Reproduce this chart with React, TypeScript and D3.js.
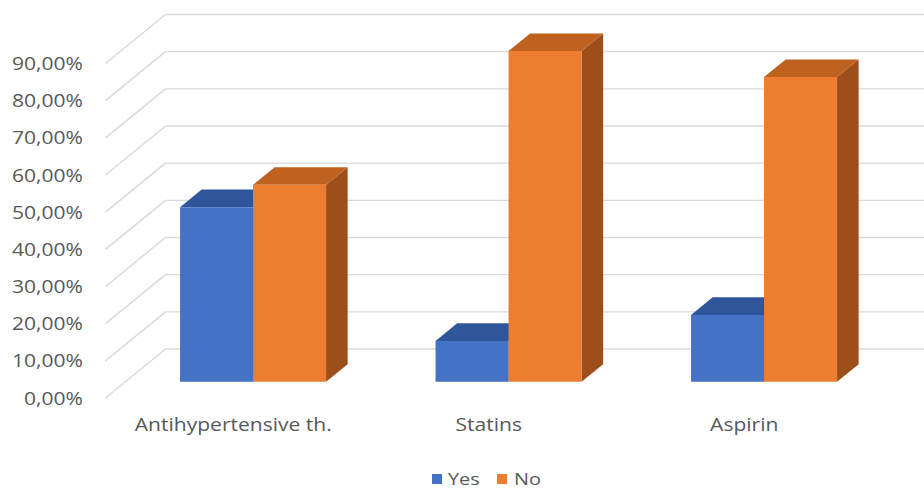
import React from "react";
import * as d3 from "d3";

const categories = ["Antihypertensive th.", "Statins", "Aspirin"];
const seriesNames = ["Yes", "No"];
const yesValues = [0.47, 0.11, 0.18];
const noValues = [0.53, 0.89, 0.82];
const tickValues = [0, 0.1, 0.2, 0.3, 0.4, 0.5, 0.6, 0.7, 0.8, 0.9];

const W = 924;
const H = 490;

// oblique 3D frame
const X0 = 105.5;
const X1 = 872;
const DX = 60;
const DY = -49;
const F0 = 0.33; // bar front depth
const F1 = 0.69; // bar back depth

const FONT = "'Open Sans', 'Noto Sans', sans-serif";
const TEXT_COLOR = "#595959";
const GRID = "#d9d9d9";
const SX = 1.17;

const faces = {
  Yes: { front: "#4472c4", top: "#2f569a", side: "#2c4f8f" },
  No: { front: "#ed7d31", top: "#bf611f", side: "#9c4f1b" },
};

function Label({ x, y, anchor, size, children }: any) {
  return (
    <text
      transform={`translate(${x},${y}) scale(${SX},1)`}
      textAnchor={anchor}
      fontFamily={FONT}
      fontSize={size}
      fill={TEXT_COLOR}
    >
      {children}
    </text>
  );
}

export default function App() {
  const y = d3.scaleLinear().domain([0, 0.9]).range([398, 63.5]);
  const x = d3.scaleBand().domain(categories).range([X0, X1]).paddingInner(0).paddingOuter(0);
  const xs = d3
    .scaleBand()
    .domain(seriesNames)
    .range([0, x.bandwidth()])
    .paddingInner(0)
    .paddingOuter(0.75);

  const P = (px: number, v: number, f: number) => [px + f * DX, y(v) + f * DY];
  const poly = (pts: number[][]) => pts.map((p) => p.join(",")).join(" ");

  const rows = categories.map((c, i) => ({ c, Yes: yesValues[i], No: noValues[i] }));

  return (
    <svg
      width={W}
      height={H}
      style={{ position: "absolute", left: 0, top: 0, background: "#fff" }}
    >
      <g>
        {tickValues.map((t) => (
          <g key={t}>
            <line
              x1={P(X0, t, 0)[0]}
              y1={P(X0, t, 0)[1]}
              x2={P(X0, t, 1)[0]}
              y2={P(X0, t, 1)[1]}
              stroke={GRID}
              strokeWidth={1.4}
            />
            <line
              x1={P(X0, t, 1)[0]}
              y1={P(X0, t, 1)[1]}
              x2={P(X1, t, 1)[0]}
              y2={P(X1, t, 1)[1]}
              stroke={GRID}
              strokeWidth={1.4}
            />
          </g>
        ))}
      </g>
      <g>
        {tickValues.map((t) => (
          <Label key={t} x={83} y={y(t) + 6.5} anchor="end" size={18}>
            {d3.format(".2f")(t * 100).replace(".", ",") + "%"}
          </Label>
        ))}
      </g>
      <g>
        {rows.map((r) =>
          seriesNames.map((s) => {
            const v = (r as any)[s] as number;
            const a = (x(r.c) as number) + (xs(s) as number);
            const b = a + xs.bandwidth();
            const col = (faces as any)[s];
            return (
              <g key={r.c + s}>
                <polygon
                  points={poly([P(b, 0, F0), P(b, v, F0), P(b, v, F1), P(b, 0, F1)])}
                  fill={col.side}
                />
                <polygon
                  points={poly([P(a, v, F0), P(b, v, F0), P(b, v, F1), P(a, v, F1)])}
                  fill={col.top}
                />
                <polygon
                  points={poly([P(a, 0, F0), P(b, 0, F0), P(b, v, F0), P(a, v, F0)])}
                  fill={col.front}
                />
              </g>
            );
          })
        )}
      </g>
      <g>
        {categories.map((c) => (
          <Label key={c} x={(x(c) as number) + x.bandwidth() / 2} y={431} anchor="middle" size={18}>
            {c}
          </Label>
        ))}
      </g>
      <g>
        <rect x={432} y={474} width={10} height={10} fill={faces.Yes.front} />
        <Label x={448} y={484.5} anchor="start" size={17}>
          {seriesNames[0]}
        </Label>
        <rect x={497} y={474} width={10} height={10} fill={faces.No.front} />
        <Label x={514} y={484.5} anchor="start" size={17}>
          {seriesNames[1]}
        </Label>
      </g>
    </svg>
  );
}
